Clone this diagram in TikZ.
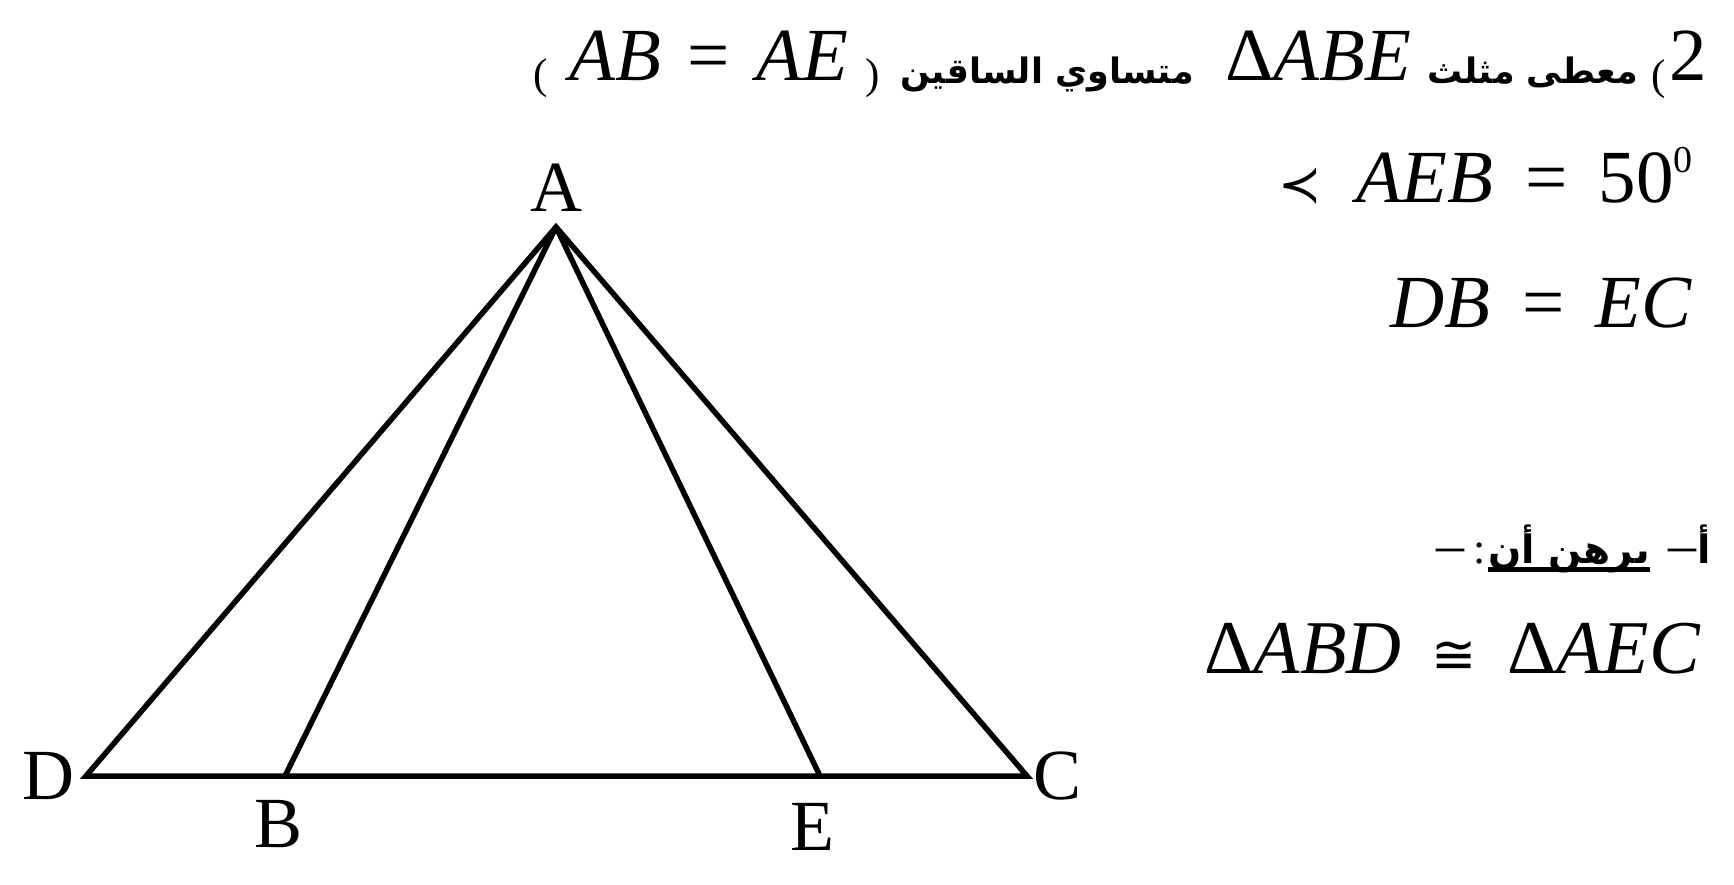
\documentclass[tikz,border=0pt]{standalone}
\usepackage{fontspec}
\setmainfont{Liberation Serif}
\newfontfamily\arabicfont[Script=Arabic]{DejaVu Sans}
\newfontfamily\symbfont{DejaVu Sans}
\TeXXeTstate=1
\usetikzlibrary{positioning}
\tikzstyle{edge} = [draw, line width=5.5pt]
\tikzstyle{rule} = [draw, line width=5pt]
\tikzstyle{vertex} = [inner sep=0pt, font=\fontsize{72}{80}\selectfont]
\tikzstyle{eq} = [inner sep=0pt, font=\fontsize{75}{80}\selectfont\itshape]
\tikzstyle{arab} = [inner sep=0pt, font=\fontsize{35}{42}\selectfont\arabicfont\bfseries]
\tikzstyle{arabbig} = [inner sep=0pt, font=\fontsize{39}{46}\selectfont\arabicfont\bfseries]
\tikzstyle{paren} = [inner sep=0pt, font=\fontsize{43}{48}\selectfont]
\tikzstyle{punct} = [inner sep=0pt, font=\fontsize{56}{60}\selectfont]
\newcommand{\tri}{\textup{Δ}}
\newcommand{\eqsp}{\hspace{0.42em}}
\newcommand{\sym}[2]{{\symbfont\fontsize{#1}{#1}\selectfont #2}}

\begin{document}
\begin{tikzpicture}[x=1pt, y=-1pt, node distance=10pt]
	\useasboundingbox (0,0) rectangle (1734,884);
	% Place points
	\coordinate (A) at (556,227);
	\coordinate (D) at (86,776);
	\coordinate (B) at (285,776);
	\coordinate (E) at (820,776);
	\coordinate (C) at (1027,776);
	% Vertex labels
	\node [vertex, above=15pt of A] (labA) {A};
	\node [vertex, left=11pt of D] (labD) {D};
	\node [vertex, right=6pt of C] (labC) {C};
	\node [vertex, below=24pt of B, xshift=-6pt] (labB) {B};
	\node [vertex, below=27pt of E, xshift=-8pt] (labE) {E};

	% Given
	\node [eq, anchor=base east] (two) at (1707,80) {\textup{2}};
	\node [paren] (brk) at (1659,79) {(};
	\node [arab, anchor=base east] (given) at (1638,83) {\beginR معطى مثلث\endR};
	\node [eq, anchor=base east] (abe) at (1411,80) {\tri ABE};
	\node [arab, anchor=base east] (isos) at (1194,83) {\beginR متساوي الساقين\endR};
	\node [paren] (rpar) at (873,78) {)};
	\node [eq, anchor=base east] (sides) at (848,80) {AB\hspace{0.35em}\textup{=}\hspace{0.35em}AE};
	\node [paren] (lpar) at (541,78) {(};
	\node [eq, anchor=base east] (angle) at (1693,202) {\sym{52}{≺}\hspace{0.45em}AEB\eqsp\textup{=}\eqsp\textup{50\raisebox{0.4em}{\fontsize{38}{38}\selectfont 0}}};
	\node [eq, anchor=base east] (segs) at (1692,327) {DB\eqsp\textup{=}\eqsp EC};

	% Prove
	\node [arabbig, anchor=base east] (alef) at (1711,563) {\beginR أ\endR};
	\node [punct, anchor=base east] (dash) at (1697,563) {–};
	\node [arabbig, anchor=base east] (prove) at (1650,563) {\beginR برهن أن\endR};
	\node [punct, anchor=base east, font=\fontsize{44}{48}\selectfont] (colon) at (1486,563) {:};
	\node [punct, anchor=base east] (ldash) at (1465,563) {–};
	\node [eq, anchor=base east, font=\fontsize{76}{80}\selectfont\itshape] (cong) at (1700,673) {\tri ABD\hspace{0.4em}\sym{54}{≅}\hspace{0.4em}\tri AEC};

	% Draw edges
	\path [edge] (D) -- (A) -- (C) -- cycle;
	\path [edge] (A) -- (B);
	\path [edge] (A) -- (E);
	\path [rule] ([yshift=-6.5pt]prove.base west) -- ([yshift=-6.5pt]prove.base east);
\end{tikzpicture}
\end{document}
